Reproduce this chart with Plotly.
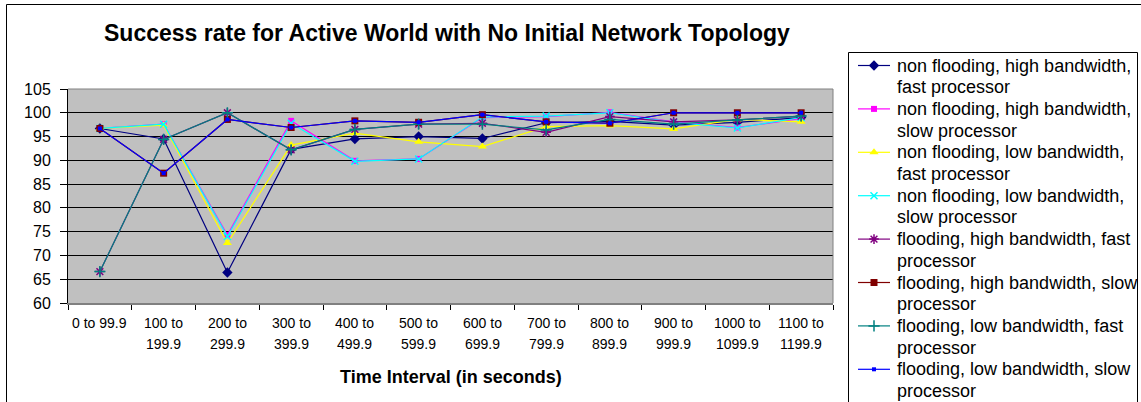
import plotly.graph_objects as go

# ---- data -------------------------------------------------------------
categories = ["0 to 99.9", "100 to 199.9", "200 to 299.9", "300 to 399.9",
              "400 to 499.9", "500 to 599.9", "600 to 699.9", "700 to 799.9",
              "800 to 899.9", "900 to 999.9", "1000 to 1099.9", "1100 to 1199.9"]
tick_lines = [["0 to 99.9"], ["100 to", "199.9"], ["200 to", "299.9"], ["300 to", "399.9"],
              ["400 to", "499.9"], ["500 to", "599.9"], ["600 to", "699.9"], ["700 to", "799.9"],
              ["800 to", "899.9"], ["900 to", "999.9"], ["1000 to", "1099.9"], ["1100 to", "1199.9"]]

nf_high_fast = [96.7, 94.5, 66.4, 92.3, 94.5, 95.0, 94.6, 97.9, 98.2, 97.4, 98.0, 99.0]
nf_high_slow = [96.7, 97.6, 74.3, 98.3, 89.9, 90.3, 99.0, 99.2, 100.1, 98.1, 96.9, 98.8]
nf_low_fast = [96.7, 97.4, 72.6, 93.2, 95.7, 93.9, 92.9, 97.1, 97.3, 96.6, 98.6, 98.1]
nf_low_slow = [96.7, 97.6, 74.0, 97.8, 89.8, 90.3, 99.1, 99.3, 100.0, 98.0, 96.8, 99.0]
fl_high_fast = [66.6, 94.4, 100.0, 92.2, 96.5, 97.6, 97.8, 95.9, 99.2, 98.1, 98.5, 99.3]
fl_high_slow = [96.7, 87.3, 98.6, 96.9, 98.3, 98.0, 99.6, 98.1, 97.8, 100.0, 100.0, 100.0]
fl_low_fast = [66.6, 94.4, 100.0, 92.2, 96.5, 97.6, 97.6, 96.4, 98.6, 97.6, 98.5, 99.3]
fl_low_slow = [96.7, 87.3, 98.6, 96.9, 98.3, 98.0, 99.6, 98.1, 97.8, 100.0, 100.0, 100.0]

series_names = [
    ["non flooding, high bandwidth,", "fast processor"],
    ["non flooding, high bandwidth,", "slow processor"],
    ["non flooding, low bandwidth,", "fast processor"],
    ["non flooding, low bandwidth,", "slow processor"],
    ["flooding, high bandwidth, fast", "processor"],
    ["flooding, high bandwidth, slow", "processor"],
    ["flooding, low bandwidth, fast", "processor"],
    ["flooding, low bandwidth, slow", "processor"],
]
series_values = [nf_high_fast, nf_high_slow, nf_low_fast, nf_low_slow,
                 fl_high_fast, fl_high_slow, fl_low_fast, fl_low_slow]

# ---- styles -----------------------------------------------------------
colors = ["#000080", "#FF00FF", "#FFFF00", "#00FFFF",
          "#800080", "#800000", "#008080", "#0000FF"]
symbols = ["diamond", "square", "triangle-up", "x-thin-open",
           "asterisk-open", "square", "cross-thin-open", "square"]
sizes = [8, 6, 8, 7, 8, 7, 8, 4]

FONT = "Liberation Sans, Arial, sans-serif"
W, H = 1141, 402
PLOT_L, PLOT_R, PLOT_T, PLOT_B = 68, 833, 89, 303


def marker_for(i):
    sym = symbols[i]
    if sym.endswith("-open"):
        return dict(symbol=sym, size=sizes[i], color=colors[i],
                    line=dict(width=1.5, color=colors[i]))
    return dict(symbol=sym, size=sizes[i], color=colors[i],
                line=dict(width=0))


fig = go.Figure()

for i, vals in enumerate(series_values):
    fig.add_trace(go.Scatter(
        x=categories, y=vals, mode="lines+markers",
        name=" ".join(series_names[i]),
        line=dict(color=colors[i], width=1.2),
        marker=marker_for(i),
        xaxis="x", yaxis="y", cliponaxis=False,
    ))

# ---- hand-drawn legend (pixel space via an invisible overlay axis) ----
LEG_X0, LEG_TOP = 848.5, 52.5
KEY_X0, KEY_X1, TEXT_X = 858, 890, 895
FIRST_ROW, ROW_STEP, LINE_STEP = 65.5, 43.4, 21.7

annotations = []
for i, lines in enumerate(series_names):
    yc = FIRST_ROW + i * ROW_STEP
    fig.add_trace(go.Scatter(
        x=[KEY_X0, KEY_X1], y=[yc, yc], mode="lines",
        line=dict(color=colors[i], width=1.2), showlegend=False,
        xaxis="x2", yaxis="y2", hoverinfo="skip"))
    fig.add_trace(go.Scatter(
        x=[(KEY_X0 + KEY_X1) / 2], y=[yc], mode="markers",
        marker=marker_for(i), showlegend=False,
        xaxis="x2", yaxis="y2", hoverinfo="skip"))
    for j, txt in enumerate(lines):
        annotations.append(dict(
            x=TEXT_X, y=yc + j * LINE_STEP, xref="x2", yref="y2",
            text=txt, showarrow=False, xanchor="left", yanchor="middle",
            font=dict(family=FONT, size=18, color="black")))

# category labels, two rows under the axis
TICK_ROW1, TICK_ROW_STEP = 323, 21
for cat, lines in zip(categories, tick_lines):
    for j, txt in enumerate(lines):
        annotations.append(dict(
            x=cat, y=TICK_ROW1 + j * TICK_ROW_STEP, xref="x", yref="y2",
            text=txt, showarrow=False, xanchor="center", yanchor="middle",
            font=dict(family=FONT, size=14, color="black")))

annotations.append(dict(
    x=447, y=33, xref="x2", yref="y2", showarrow=False,
    text="<b>Success rate for Active World with No Initial Network Topology</b>",
    font=dict(family=FONT, size=23, color="black"),
    xanchor="center", yanchor="middle"))
annotations.append(dict(
    x=(PLOT_L + PLOT_R) / 2, y=377, xref="x2", yref="y2", showarrow=False,
    text="<b>Time Interval (in seconds)</b>",
    font=dict(family=FONT, size=18, color="black"),
    xanchor="center", yanchor="middle"))

shapes = [
    # grey plot area
    dict(type="rect", xref="x domain", yref="y domain", x0=0, x1=1, y0=0, y1=1,
         fillcolor="#C0C0C0", line=dict(width=0), layer="below"),
    # top and right edges of the plot area
    dict(type="line", xref="x domain", yref="y domain", x0=0, x1=1, y0=1, y1=1,
         line=dict(color="#808080", width=1), layer="above"),
    dict(type="line", xref="x domain", yref="y domain", x0=1, x1=1, y0=0, y1=1,
         line=dict(color="#808080", width=1), layer="above"),
    # chart frame
    dict(type="rect", xref="x2", yref="y2", x0=6.5, x1=W + 20, y0=4.5, y1=H + 20,
         line=dict(color="black", width=1), fillcolor="rgba(0,0,0,0)", layer="below"),
    # legend frame
    dict(type="rect", xref="x2", yref="y2", x0=LEG_X0, x1=1137.5, y0=LEG_TOP, y1=H + 20,
         line=dict(color="black", width=1), fillcolor="white", layer="below"),
]

fig.update_layout(
    width=W, height=H, autosize=False,
    margin=dict(l=0, r=0, t=0, b=0, pad=0, autoexpand=False),
    paper_bgcolor="white", plot_bgcolor="rgba(0,0,0,0)",
    showlegend=False,
    font=dict(family=FONT, color="black"),
    xaxis=dict(
        domain=[PLOT_L / W, PLOT_R / W], anchor="y", automargin=False,
        type="category", range=[-0.5, len(categories) - 0.5],
        showticklabels=False,
        tickson="boundaries", ticks="outside", ticklen=5, tickcolor="black",
        showline=True, linecolor="#808080", linewidth=2,
        showgrid=False, zeroline=False,
    ),
    yaxis=dict(
        domain=[(H - PLOT_B) / H, (H - PLOT_T) / H], anchor="x", automargin=False,
        range=[60, 105], tick0=60, dtick=5,
        showgrid=True, gridcolor="black", gridwidth=1,
        ticks="outside", ticklen=7, tickcolor="black", ticklabelstandoff=6,
        showline=True, linecolor="black", linewidth=1, zeroline=False,
        tickfont=dict(family=FONT, size=16, color="black"),
    ),
    xaxis2=dict(domain=[0, 1], range=[0, W], visible=False, anchor="y2",
                fixedrange=True, automargin=False),
    yaxis2=dict(domain=[0, 1], range=[H, 0], visible=False, anchor="x2",
                fixedrange=True, automargin=False),
    shapes=shapes,
    annotations=annotations,
)

fig.write_html("out.html")
